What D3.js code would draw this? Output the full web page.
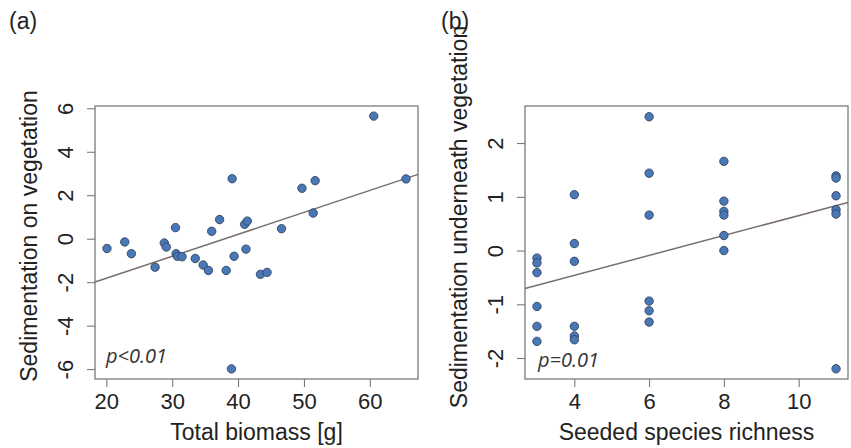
<!DOCTYPE html>
<html>
<head>
<meta charset="utf-8">
<script src="https://cdn.jsdelivr.net/npm/d3@7"></script>
<style>
  body { margin: 0; background: #fff; }
  svg { display: block; font-family: "Liberation Sans", Arial, sans-serif; }
  .axis path, .axis line { stroke: #6e6e6e; }
  .axis text { fill: #222; font-size: 22px; }
  .ylab, .xlab { fill: #222; font-size: 23px; }
  .ptext { font-family: "Open Sans", sans-serif; font-style: italic; font-size: 20px; fill: #333; }
  .panel { font-size: 23px; fill: #222; }
</style>
</head>
<body>
<div id="graphic"></div>
<script>
// panel (a): total biomass vs sedimentation on vegetation
const biomass = [20.1, 22.8, 23.8, 27.4, 28.8, 29.1, 30.5, 30.6, 30.8, 31.5,
  33.5, 34.7, 35.5, 36.0, 37.2, 38.2, 39.1, 39.0, 39.4, 41.0,
  41.4, 41.2, 43.4, 44.4, 46.6, 49.7, 51.4, 51.7, 60.6, 65.5];
const sedOnVeg = [-0.45, -0.15, -0.69, -1.31, -0.2, -0.38, 0.51, -0.69, -0.81, -0.83,
  -0.91, -1.21, -1.46, 0.34, 0.88, -1.46, 2.76, -5.99, -0.81, 0.66,
  0.81, -0.48, -1.64, -1.55, 0.46, 2.32, 1.18, 2.67, 5.64, 2.75];

// panel (b): seeded species richness vs sedimentation underneath vegetation
const richness = [3, 3, 3, 3, 3, 3, 4, 4, 4, 4, 4, 4, 6, 6, 6, 6, 6, 6,
  8, 8, 8, 8, 8, 8, 11, 11, 11, 11, 11, 11];
const sedUnder = [-0.14, -0.23, -0.41, -1.04, -1.41, -1.69,
  1.04, 0.13, -0.2, -1.41, -1.59, -1.66,
  2.49, 1.44, 0.66, -0.94, -1.12, -1.33,
  1.66, 0.92, 0.73, 0.66, 0.28, 0.0,
  1.39, 1.35, 1.02, 0.76, 0.68, -2.2];

// fitted lines
const fitA = { intercept: -3.84, slope: 0.101 };
const fitB = { intercept: -1.20, slope: 0.185 };

// tick labels
const ticksAx = [20, 30, 40, 50, 60];
const ticksAy = [-6, -4, -2, 0, 2, 4, 6];
const ticksBx = [4, 6, 8, 10];
const ticksBy = [-2, -1, 0, 1, 2];

const svg = d3.select("#graphic").append("svg")
  .attr("width", 851)
  .attr("height", 448);

// plain hyphen for negatives, like the original
const fmt = d => String(d);

function drawPanel(opts) {
  const x = d3.scaleLinear().domain(opts.xDomain).range([opts.left, opts.right]);
  const y = d3.scaleLinear().domain(opts.yDomain).range([opts.bottom, opts.top]);
  const g = svg.append("g");

  // y axis with rotated labels
  const yAxis = g.append("g")
    .attr("class", "axis")
    .attr("transform", `translate(${opts.left},0)`)
    .call(d3.axisLeft(y).tickValues(opts.yTicks).tickSize(8).tickSizeOuter(0).tickFormat(fmt));
  yAxis.selectAll("text")
    .attr("x", null).attr("dy", null)
    .attr("text-anchor", "middle")
    .attr("transform", "translate(-22,0) rotate(-90)");
  yAxis.select(".domain").remove();

  const xAxis = g.append("g")
    .attr("class", "axis")
    .attr("transform", `translate(0,${opts.bottom})`)
    .call(d3.axisBottom(x).tickValues(opts.xTicks).tickSize(8).tickSizeOuter(0).tickFormat(fmt));
  xAxis.selectAll("text").attr("y", 30).attr("dy", null);
  xAxis.select(".domain").remove();

  // box
  g.append("rect")
    .attr("x", opts.left).attr("y", opts.top)
    .attr("width", opts.right - opts.left)
    .attr("height", opts.bottom - opts.top)
    .attr("fill", "none")
    .attr("stroke", "#6e6e6e")
    .attr("stroke-width", 1.2);

  // regression line across the plot region
  const xd = x.domain();
  g.append("line")
    .attr("x1", x(xd[0])).attr("y1", y(opts.fit.intercept + opts.fit.slope * xd[0]))
    .attr("x2", x(xd[1])).attr("y2", y(opts.fit.intercept + opts.fit.slope * xd[1]))
    .attr("stroke", "#7a706c")
    .attr("stroke-width", 1.5);

  g.selectAll("circle")
    .data(opts.xs.map((d, i) => [d, opts.ys[i]]))
    .enter().append("circle")
      .attr("cx", d => x(d[0]))
      .attr("cy", d => y(d[1]))
      .attr("r", 4.2)
      .attr("fill", "#4a78b6")
      .attr("stroke", "#2f4461")
      .attr("stroke-width", 0.9);

  g.append("text")
    .attr("class", "ptext")
    .attr("x", opts.pPos[0]).attr("y", opts.pPos[1])
    .text(opts.pText);

  g.append("text")
    .attr("class", "xlab")
    .attr("x", (opts.left + opts.right) / 2).attr("y", 440)
    .attr("text-anchor", "middle")
    .text(opts.xLabel);

  g.append("text")
    .attr("class", "ylab")
    .attr("text-anchor", "middle")
    .attr("transform", `translate(${opts.yLabPos[0]},${opts.yLabPos[1]}) rotate(-90)`)
    .text(opts.yLabel);

  g.append("text")
    .attr("class", "panel")
    .attr("x", opts.tag[0]).attr("y", opts.tag[1])
    .text(opts.tagText);
}

drawPanel({
  xs: biomass, ys: sedOnVeg, fit: fitA,
  xDomain: [18.28, 67.32], yDomain: [-6.455, 6.105],
  left: 95, right: 418, top: 106, bottom: 379,
  xTicks: ticksAx, yTicks: ticksAy,
  xLabel: "Total biomass [g]", yLabel: "Sedimentation on vegetation",
  yLabPos: [37, 236],
  pText: "p<0.01", pPos: [106, 363],
  tagText: "(a)", tag: [9, 29]
});

drawPanel({
  xs: richness, ys: sedUnder, fit: fitB,
  xDomain: [2.68, 11.32], yDomain: [-2.39, 2.69],
  left: 525, right: 848, top: 106, bottom: 379,
  xTicks: ticksBx, yTicks: ticksBy,
  xLabel: "Seeded species richness", yLabel: "Sedimentation underneath vegetation",
  yLabPos: [467, 217],
  pText: "p=0.01", pPos: [538, 367],
  tagText: "(b)", tag: [441, 29]
});
</script>
</body>
</html>
